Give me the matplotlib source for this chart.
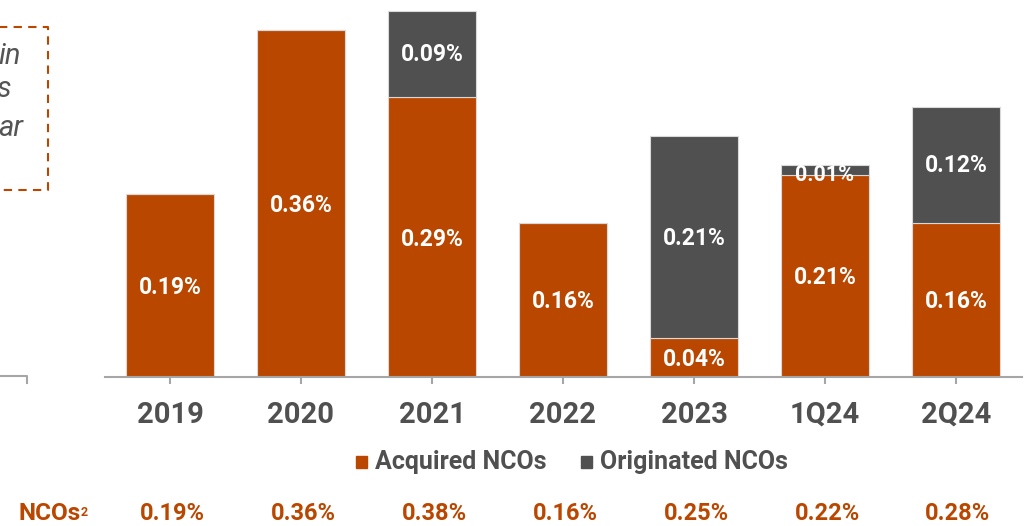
import matplotlib
matplotlib.use("Agg")
import matplotlib.pyplot as plt
from matplotlib.lines import Line2D
from matplotlib.patches import Rectangle

categories = ["2019", "2020", "2021", "2022", "2023", "1Q24", "2Q24"]
acquired = [0.19, 0.36, 0.29, 0.16, 0.04, 0.21, 0.16]
originated = [0.00, 0.00, 0.09, 0.00, 0.21, 0.01, 0.12]
total_ncos = ["0.19%", "0.36%", "0.38%", "0.16%", "0.25%", "0.22%", "0.28%"]
legend_labels = ["Acquired NCOs", "Originated NCOs"]
side_text = ["in", "s", "ar"]

ORANGE = "#BA4700"
GREY = "#505050"
AXIS = "#A6A6A6"

plt.rcParams['font.family'] = ['Roboto', 'DejaVu Sans']

W, H = 1030, 526
fig = plt.figure(figsize=(W / 100, H / 100), dpi=100)

def fx(px):
    return px / W

def fy(py):
    return 1 - py / H

ax = fig.add_axes([fx(104.5), fy(377), fx(917), (377 - 1) / H])
x = list(range(len(categories)))
ax.bar(x, acquired, width=0.665, color=ORANGE, edgecolor="#D9D9D9", linewidth=0.8, zorder=2)
ax.bar(x, originated, width=0.665, bottom=acquired, color=GREY, edgecolor="#D9D9D9", linewidth=0.8, zorder=2)
ax.set_xlim(-0.5, len(categories) - 0.5)
ax.set_ylim(0, 0.39)
for s in ["top", "right", "left"]:
    ax.spines[s].set_visible(False)
ax.spines["bottom"].set_color(AXIS)
ax.spines["bottom"].set_linewidth(1.5)
ax.set_yticks([])
ax.set_xticks(x)
ax.set_xticklabels(categories, fontsize=21, fontweight="bold", color=GREY)
ax.tick_params(axis="x", length=5, width=1.5, color=AXIS, pad=12)

for i in x:
    a = acquired[i]
    o = originated[i]
    ax.text(i, a / 2 - 0.002, f"{a:.2f}%", ha="center", va="center", color="white",
            fontsize=16.5, fontweight="bold", zorder=3)
    if o > 0:
        yy = a + o / 2
        if o < 0.02:
            yy = a + o / 2 - 0.004
        ax.text(i, yy - 0.001, f"{o:.2f}%", ha="center", va="center", color="white",
                fontsize=16.5 if o >= 0.02 else 15.5, fontweight="bold", zorder=3)

# legend
fig.patches.append(Rectangle((fx(356), fy(468)), fx(11), 12 / H, color=ORANGE, transform=fig.transFigure))
fig.text(fx(375), fy(462), legend_labels[0], ha="left", va="center", fontsize=18,
         fontweight="bold", color=GREY)
fig.patches.append(Rectangle((fx(581), fy(468)), fx(11), 12 / H, color=GREY, transform=fig.transFigure))
fig.text(fx(600), fy(462), legend_labels[1], ha="left", va="center", fontsize=18,
         fontweight="bold", color=GREY)

# NCOs row
fig.text(fx(19), fy(513), "NCOs", ha="left", va="center", fontsize=17.5, fontweight="bold", color=ORANGE)
fig.text(fx(81), fy(512), "2", ha="left", va="center", fontsize=9, fontweight="bold", color=ORANGE)
for i, t in enumerate(total_ncos):
    xp = ax.transData.transform((i, 0))[0]
    fig.text(xp / W + fx(2), fy(513), t, ha="center", va="center", fontsize=17, fontweight="bold", color=ORANGE)

# left fragment: dashed box and axis of neighbour panel
fig.add_artist(Line2D([fx(-10), fx(48), fx(48), fx(-10)], [fy(27), fy(27), fy(190), fy(190)],
                      color=ORANGE, linestyle=(0, (4, 3)), linewidth=1.5, transform=fig.transFigure))
for t, xr, yc in zip(side_text, [21, 11, 23], [56, 89, 128]):
    fig.text(fx(xr), fy(yc), t, ha="right", va="center", fontsize=21, style="italic", color="#555555")
fig.add_artist(Line2D([fx(0), fx(27), fx(27)], [fy(376), fy(376), fy(383)],
                      color=AXIS, linewidth=1.5, transform=fig.transFigure))

fig.savefig("out.png", dpi=100)
